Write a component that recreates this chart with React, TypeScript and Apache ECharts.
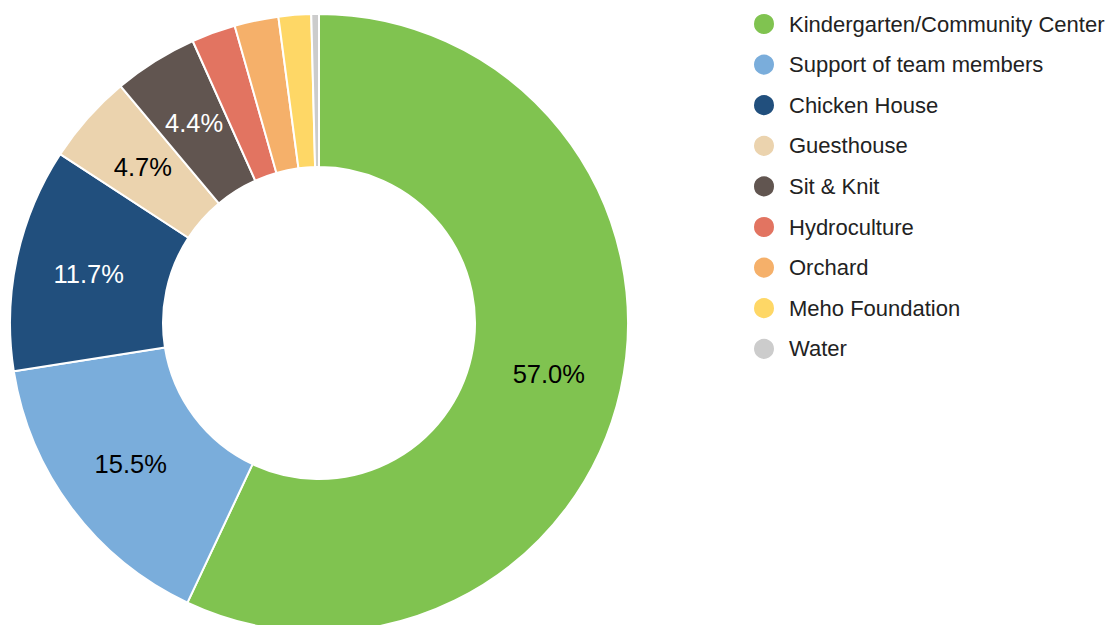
import React, { useEffect, useRef } from "react";
import * as echarts from "echarts";

const categories = [
  "Kindergarten/Community Center",
  "Support of team members",
  "Chicken House",
  "Guesthouse",
  "Sit & Knit",
  "Hydroculture",
  "Orchard",
  "Meho Foundation",
  "Water",
];
const values = [57.0, 15.5, 11.7, 4.7, 4.4, 2.3, 2.3, 1.7, 0.4];
const colors = [
  "#80c350",
  "#7aaddb",
  "#214f7d",
  "#ebd3ae",
  "#615550",
  "#e27461",
  "#f5b06a",
  "#fed766",
  "#cccccc",
];
const labelColors = ["#000", "#000", "#fff", "#000", "#fff", "#000", "#000", "#000", "#000"];

export default function App() {
  const ref = useRef<HTMLDivElement>(null);
  useEffect(() => {
    document.body.style.margin = "0";
    const chart = echarts.init(ref.current!, null, { renderer: "svg" });
    chart.setOption({
      animation: false,
      color: colors,
      legend: {
        orient: "vertical",
        left: 752,
        top: 12,
        padding: 0,
        icon: "circle",
        itemWidth: 22,
        itemHeight: 22,
        itemGap: 16.6,
        data: categories,
        textStyle: {
          fontFamily: "Liberation Sans, Arial, sans-serif",
          fontSize: 22,
          color: "#222",
          padding: [0, 0, 0, 9],
        },
      },
      series: [
        {
          type: "pie",
          center: [319, 323],
          radius: [156, 309],
          startAngle: 90,
          clockwise: true,
          avoidLabelOverlap: false,
          itemStyle: { borderColor: "#fff", borderWidth: 2 },
          label: {
            show: true,
            position: "inside",
            fontFamily: "Liberation Sans, Arial, sans-serif",
            fontSize: 25.5,
            formatter: (p: any) => (p.value >= 4 ? p.value.toFixed(1) + "%" : ""),
          },
          labelLine: { show: false },
          emphasis: { disabled: true },
          data: categories.map((name, i) => ({
            name,
            value: values[i],
            label: { color: labelColors[i] },
          })),
        },
      ],
    });
    return () => chart.dispose();
  }, []);
  return <div ref={ref} style={{ width: 1112, height: 625 }} />;
}
